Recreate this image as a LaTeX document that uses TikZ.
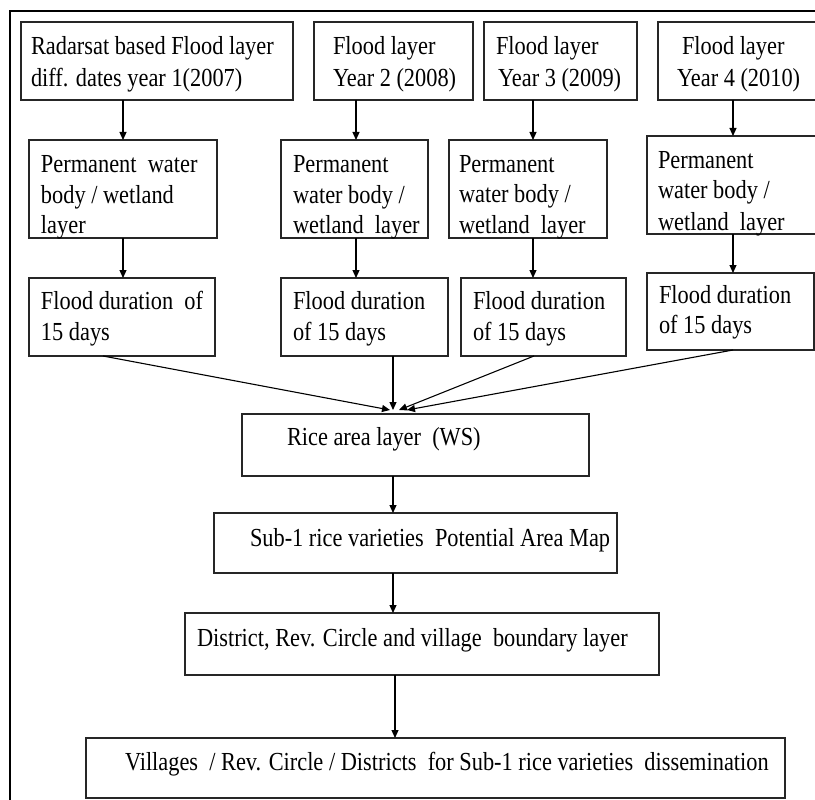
\documentclass[tikz,border=0pt]{standalone}
\usepackage{fontspec}
\setmainfont[FakeStretch=0.86]{Liberation Serif}
\usetikzlibrary{arrows.meta}
\tikzset{
  box/.style={draw=black!85, line width=1.3pt, inner sep=0pt, outer sep=0pt, anchor=north west},
  txt/.style={inner sep=0pt, outer sep=0pt, anchor=base west, text=black, font=\fontsize{26}{31}\selectfont},
  arr/.style={draw=black, line width=1.1pt, -{Triangle[length=8pt,width=7pt]}},
  frame/.style={draw=black, line width=1.8pt}
}
\begin{document}
\begin{tikzpicture}[x=1pt,y=-1pt]
\useasboundingbox (0,0) rectangle (815,800);
\clip (0,0) rectangle (815,800);
\fill[white] (0,0) rectangle (815,800);
\draw[frame] (10,805) -- (10,11) -- (820,11);

% row 1
\node[box, minimum width=272pt, minimum height=78pt] (b1) at (21,22) {};
\node[box, minimum width=159pt, minimum height=78pt] (b2) at (314,22) {};
\node[box, minimum width=153pt, minimum height=78pt] (b3) at (484,22) {};
\node[box, minimum width=180pt, minimum height=78pt] (b4) at (658,22) {};
\node[txt] (b1a) at (31,55) {Radarsat based Flood layer};
\node[txt] (b1b) at (31,87) {diff. dates year 1(2007)};
\node[txt] (b2a) at (333,55) {Flood layer};
\node[txt] (b2b) at (333,87) {Year 2 (2008)};
\node[txt] (b3a) at (496,55) {Flood layer};
\node[txt] (b3b) at (498,87) {Year 3 (2009)};
\node[txt] (b4a) at (682,55) {Flood layer};
\node[txt] (b4b) at (677,87) {Year 4 (2010)};

% row 2
\node[box, minimum width=188pt, minimum height=98pt] (p1) at (29,140) {};
\node[box, minimum width=147pt, minimum height=98pt] (p2) at (281,140) {};
\node[box, minimum width=158pt, minimum height=98pt] (p3) at (449,140) {};
\node[box, minimum width=190pt, minimum height=98pt] (p4) at (647,136) {};
\node[txt] (p1a) at (41,172) {Permanent~ water};
\node[txt] (p1b) at (41,203) {body / wetland};
\node[txt] (p1c) at (41,233) {layer};
\node[txt] (p2a) at (293,172) {Permanent};
\node[txt] (p2b) at (293,203) {water body /};
\node[txt] (p2c) at (293,233) {wetland~ layer};
\node[txt] (p3a) at (459,172) {Permanent};
\node[txt] (p3b) at (459,202) {water body /};
\node[txt] (p3c) at (459,233) {wetland~ layer};
\node[txt] (p4a) at (658,168) {Permanent};
\node[txt] (p4b) at (658,198) {water body /};
\node[txt] (p4c) at (658,230) {wetland~ layer};

% row 3
\node[box, minimum width=186pt, minimum height=78pt] (f1) at (29,278) {};
\node[box, minimum width=167pt, minimum height=78pt] (f2) at (281,278) {};
\node[box, minimum width=165pt, minimum height=78pt] (f3) at (461,278) {};
\node[box, minimum width=167pt, minimum height=77pt] (f4) at (647,273) {};
\node[txt] (f1a) at (41,309) {Flood duration~ of};
\node[txt] (f1b) at (41,340) {15 days};
\node[txt] (f2a) at (293,309) {Flood duration};
\node[txt] (f2b) at (293,340) {of 15 days};
\node[txt] (f3a) at (473,309) {Flood duration};
\node[txt] (f3b) at (473,340) {of 15 days};
\node[txt] (f4a) at (659,303) {Flood duration};
\node[txt] (f4b) at (659,333) {of 15 days};

% lower chain
\node[box, minimum width=347pt, minimum height=62pt] (rice) at (242,414) {};
\node[txt] (ricet) at (287,445) {Rice area layer~ (WS)};
\node[box, minimum width=403pt, minimum height=60pt] (sub) at (214,513) {};
\node[txt] (subt) at (250,546) {Sub-1 rice varieties~ Potential Area Map};
\node[box, minimum width=474pt, minimum height=62pt] (dist) at (185,613) {};
\node[txt] (distt) at (197,646) {District, Rev. Circle and village~ boundary layer};
\node[box, minimum width=699pt, minimum height=60pt] (vill) at (86,738) {};
\node[txt] (villt) at (125,770) {Villages~ / Rev. Circle / Districts~ for Sub-1 rice varieties~ dissemination};

% arrows row1 -> row2 -> row3
\draw[arr] (b1.south -| 123,0) -- (p1.north -| 123,0);
\draw[arr] (b2.south -| 356,0) -- (p2.north -| 356,0);
\draw[arr] (b3.south -| 533,0) -- (p3.north -| 533,0);
\draw[arr] (b4.south -| 733,0) -- (p4.north -| 733,0);
\draw[arr] (p1.south -| 123,0) -- (f1.north -| 123,0);
\draw[arr] (p2.south -| 356,0) -- (f2.north -| 356,0);
\draw[arr] (p3.south -| 533,0) -- (f3.north -| 533,0);
\draw[arr] (p4.south -| 733,0) -- (f4.north -| 733,0);

% converging arrows
\coordinate (m1) at (390,410);
\coordinate (m2) at (393,410);
\coordinate (m3) at (399,410);
\coordinate (m4) at (407,410);
\draw[arr] (f1.south -| 103,0) -- (m1);
\draw[arr] (f2.south -| 393,0) -- (m2);
\draw[arr] (f3.south -| 534,0) -- (m3);
\draw[arr] (f4.south -| 733,0) -- (m4);

% chain arrows
\draw[arr] (rice.south -| 393,0) -- (sub.north -| 393,0);
\draw[arr] (sub.south -| 393,0) -- (dist.north -| 393,0);
\draw[arr] (dist.south -| 395,0) -- (vill.north -| 395,0);
\end{tikzpicture}
\end{document}
